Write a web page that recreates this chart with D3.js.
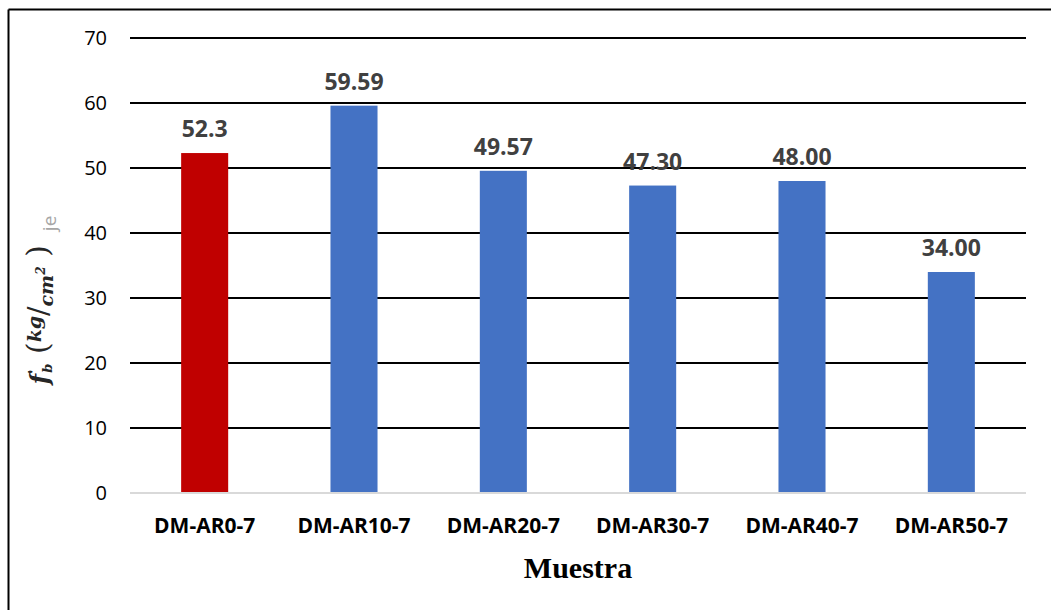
<!DOCTYPE html>
<html>
<head>
<meta charset="utf-8">
<script src="https://cdn.jsdelivr.net/npm/d3@7"></script>
<style>
  html, body { margin: 0; padding: 0; background: #fff; }
  svg { display: block; }
</style>
</head>
<body>
<svg id="chart" width="1051" height="610"></svg>
<script>
// Flexural strength per sample
const categories = ["DM-AR0-7", "DM-AR10-7", "DM-AR20-7", "DM-AR30-7", "DM-AR40-7", "DM-AR50-7"];
const values = [52.3, 59.59, 49.57, 47.30, 48.00, 34.00];
const valueLabels = ["52.3", "59.59", "49.57", "47.30", "48.00", "34.00"];
const barColors = ["#c00000", "#4472c4", "#4472c4", "#4472c4", "#4472c4", "#4472c4"];
const yTicks = [0, 10, 20, 30, 40, 50, 60, 70];

const svg = d3.select("#chart");
const W = 1051, H = 610;
const plot = { left: 130, right: 1026, top: 38, bottom: 493 };

// Frame lines (top and left)
svg.append("line").attr("x1", 8.5).attr("x2", W).attr("y1", 9.5).attr("y2", 9.5)
  .attr("stroke", "#000").attr("stroke-width", 2);
svg.append("line").attr("x1", 8.5).attr("x2", 8.5).attr("y1", 9.5).attr("y2", H)
  .attr("stroke", "#000").attr("stroke-width", 2);

const x = d3.scaleBand()
  .domain(categories)
  .range([plot.left, plot.right])
  .paddingInner(0.685)
  .paddingOuter(0.3425);

const y = d3.scaleLinear().domain([0, 70]).range([plot.bottom, plot.top]);

// Horizontal gridlines
svg.append("g").selectAll("line")
  .data(yTicks.filter(d => d > 0))
  .join("line")
  .attr("x1", plot.left).attr("x2", plot.right)
  .attr("y1", d => y(d)).attr("y2", d => y(d))
  .attr("stroke", "#000").attr("stroke-width", 2);

// Y axis tick labels
const yAxis = d3.axisLeft(y).tickValues(yTicks).tickSize(0).tickPadding(0);
const gy = svg.append("g").attr("transform", `translate(107,0)`).call(yAxis);
gy.select(".domain").remove();
gy.selectAll("text")
  .attr("font-family", "'Open Sans', sans-serif")
  .attr("font-size", 20)
  .attr("fill", "#000");

// Bars
svg.append("g").selectAll("rect")
  .data(values)
  .join("rect")
  .attr("x", (d, i) => x(categories[i]))
  .attr("width", x.bandwidth())
  .attr("y", d => y(d))
  .attr("height", d => y(0) - y(d))
  .attr("fill", (d, i) => barColors[i]);

// Baseline
svg.append("line")
  .attr("x1", plot.left).attr("x2", plot.right)
  .attr("y1", y(0)).attr("y2", y(0))
  .attr("stroke", "#d9d9d9").attr("stroke-width", 2);

// Value labels
svg.append("g").selectAll("text")
  .data(values)
  .join("text")
  .attr("x", (d, i) => x(categories[i]) + x.bandwidth() / 2)
  .attr("y", d => y(d) - 16)
  .attr("text-anchor", "middle")
  .attr("font-family", "'Open Sans', sans-serif")
  .attr("font-weight", "bold")
  .attr("font-size", 23)
  .attr("fill", "#404040")
  .text((d, i) => valueLabels[i]);

// Category labels
const xAxis = d3.axisBottom(x).tickSize(0).tickPadding(0);
const gx = svg.append("g").attr("transform", `translate(0,533)`).call(xAxis);
gx.select(".domain").remove();
gx.selectAll("text")
  .attr("dy", 0)
  .attr("font-family", "'Open Sans', sans-serif")
  .attr("font-weight", "bold")
  .attr("font-size", 21)
  .attr("fill", "#000");

// X axis title
svg.append("text")
  .attr("x", 578).attr("y", 578)
  .attr("text-anchor", "middle")
  .attr("font-family", "'Liberation Serif', 'Times New Roman', serif")
  .attr("font-weight", "bold")
  .attr("font-size", 30)
  .attr("fill", "#000")
  .text("Muestra");

// Y axis title: f'b (kg/cm²)
const yt = svg.append("text")
  .attr("transform", "translate(48,300) rotate(-90)")
  .attr("text-anchor", "middle")
  .attr("font-family", "'DejaVu Serif', 'Liberation Serif', serif")
  .attr("font-weight", "bold")
  .attr("font-style", "italic")
  .attr("font-size", 24)
  .attr("fill", "#262626");
yt.append("tspan").text("f");
yt.append("tspan").attr("font-size", 14).attr("dy", -9).text("'");
yt.append("tspan").attr("font-size", 13).attr("dy", 13).attr("dx", -3).text("b");
yt.append("tspan").attr("dy", -4).attr("font-style", "normal").attr("font-weight", "normal").attr("font-size", 30).text(" (");
yt.append("tspan").attr("font-size", 19).attr("dy", -7).text("kg");
yt.append("tspan").attr("font-size", 28).attr("dy", 7).attr("font-style", "normal").attr("font-weight", "normal").text("/");
yt.append("tspan").attr("font-size", 19).attr("dy", 5).text("cm");
yt.append("tspan").attr("font-size", 12).attr("dy", -8).text("2");
yt.append("tspan").attr("dy", 3).attr("font-style", "normal").attr("font-weight", "normal").attr("font-size", 30).text(" )");
yt.append("tspan").attr("dx", 14).attr("dy", 8).attr("font-family", "'Open Sans', sans-serif")
  .attr("font-style", "normal").attr("font-weight", "normal").attr("font-size", 19)
  .attr("fill", "#a6a6a6").text("je");
</script>
</body>
</html>
